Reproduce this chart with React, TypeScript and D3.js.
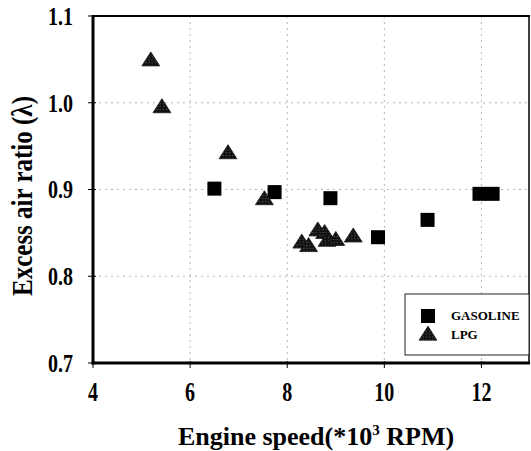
import React, { useRef, useEffect } from "react";
import * as d3 from "d3";

// Engine speed (*10^3 RPM) and excess air ratio
const gasolineSpeed = [6.5, 7.74, 8.89, 9.87, 10.89, 11.96, 12.23];
const gasolineLambda = [0.901, 0.897, 0.89, 0.845, 0.865, 0.895, 0.895];

const lpgSpeed = [5.19, 5.42, 6.78, 7.53, 8.3, 8.44, 8.63, 8.77, 8.82, 9.0, 9.36];
const lpgLambda = [1.049, 0.995, 0.942, 0.889, 0.839, 0.835, 0.853, 0.85, 0.841, 0.842, 0.846];

const xTicks = [4, 6, 8, 10, 12];
const yTicks = [0.7, 0.8, 0.9, 1.0, 1.1];
const seriesNames = ["GASOLINE", "LPG"];

export default function App() {
  const ref = useRef<SVGSVGElement>(null);

  useEffect(() => {
    const width = 531;
    const height = 451;
    const margin = { top: 16, right: 1, bottom: 88, left: 93 };
    const font = "'Liberation Serif', 'Times New Roman', serif";

    const svg = d3.select(ref.current);
    svg.selectAll("*").remove();

    const x = d3.scaleLinear().domain([4, 13]).range([margin.left, width - margin.right]);
    const y = d3.scaleLinear().domain([0.7, 1.1]).range([height - margin.bottom, margin.top]);

    // halftone-ish fill for the triangles
    const defs = svg.append("defs");
    const pat = defs
      .append("pattern")
      .attr("id", "dots")
      .attr("width", 3)
      .attr("height", 3)
      .attr("patternUnits", "userSpaceOnUse");
    pat.append("rect").attr("width", 3).attr("height", 3).attr("fill", "#111");
    pat.append("rect").attr("x", 1).attr("y", 1).attr("width", 1).attr("height", 1).attr("fill", "#666");

    // grid
    svg
      .append("g")
      .selectAll("line")
      .data(yTicks.slice(1, -1))
      .join("line")
      .attr("x1", x(4))
      .attr("x2", x(13))
      .attr("y1", (d) => y(d))
      .attr("y2", (d) => y(d))
      .attr("stroke", "#b4b4b4")
      .attr("stroke-width", 1)
      .attr("stroke-dasharray", "2,4");

    svg
      .append("g")
      .selectAll("line")
      .data(xTicks.slice(1))
      .join("line")
      .attr("x1", (d) => x(d))
      .attr("x2", (d) => x(d))
      .attr("y1", y(1.1))
      .attr("y2", y(0.7))
      .attr("stroke", "#b4b4b4")
      .attr("stroke-width", 1)
      .attr("stroke-dasharray", "2,4");

    // frame
    svg
      .append("line")
      .attr("x1", x(4))
      .attr("x2", x(13))
      .attr("y1", y(1.1))
      .attr("y2", y(1.1))
      .attr("stroke", "#000")
      .attr("stroke-width", 2);
    svg
      .append("line")
      .attr("x1", x(13) - 1)
      .attr("x2", x(13) - 1)
      .attr("y1", y(1.1))
      .attr("y2", y(0.7))
      .attr("stroke", "#000")
      .attr("stroke-width", 1.5);

    // axes
    const yAxis = svg.append("g").attr("transform", `translate(${x(4)},0)`);
    yAxis
      .append("line")
      .attr("y1", y(1.1) - 1)
      .attr("y2", y(0.7) + 1.5)
      .attr("stroke", "#000")
      .attr("stroke-width", 3);
    yAxis
      .selectAll("line.tick")
      .data(yTicks)
      .join("line")
      .attr("class", "tick")
      .attr("x1", -5)
      .attr("x2", 3)
      .attr("y1", (d) => y(d))
      .attr("y2", (d) => y(d))
      .attr("stroke", "#000")
      .attr("stroke-width", 1);
    yAxis
      .selectAll("g.lbl")
      .data(yTicks)
      .join("g")
      .attr("class", "lbl")
      .attr("transform", (d) => `translate(-20,${y(d)}) scale(1,1.3)`)
      .append("text")
      .attr("text-anchor", "end")
      .attr("dy", "0.34em")
      .style("font-family", font)
      .style("font-weight", "bold")
      .style("font-size", "20px")
      .text((d) => d.toFixed(1));

    const xAxis = svg.append("g").attr("transform", `translate(0,${y(0.7)})`);
    xAxis
      .append("line")
      .attr("x1", x(4) - 1.5)
      .attr("x2", x(13))
      .attr("stroke", "#000")
      .attr("stroke-width", 3);
    xAxis
      .selectAll("line.tick")
      .data(xTicks)
      .join("line")
      .attr("class", "tick")
      .attr("x1", (d) => x(d))
      .attr("x2", (d) => x(d))
      .attr("y1", -2)
      .attr("y2", 5)
      .attr("stroke", "#000")
      .attr("stroke-width", 1);
    xAxis
      .selectAll("g.lbl")
      .data(xTicks)
      .join("g")
      .attr("class", "lbl")
      .attr("transform", (d) => `translate(${x(d)},38) scale(1,1.35)`)
      .append("text")
      .attr("text-anchor", "middle")
      .style("font-family", font)
      .style("font-weight", "bold")
      .style("font-size", "20px")
      .text((d) => d);

    // points
    const gasoline = gasolineSpeed.map((s, i) => ({ s, l: gasolineLambda[i] }));
    const lpg = lpgSpeed.map((s, i) => ({ s, l: lpgLambda[i] }));
    const tri = d3.symbol().type(d3.symbolTriangle).size(125);

    svg
      .append("g")
      .selectAll("rect")
      .data(gasoline)
      .join("rect")
      .attr("x", (d) => x(d.s) - 7)
      .attr("y", (d) => y(d.l) - 7)
      .attr("width", 14)
      .attr("height", 14)
      .attr("fill", "#000");

    svg
      .append("g")
      .selectAll("path")
      .data(lpg)
      .join("path")
      .attr("transform", (d) => `translate(${x(d.s)},${y(d.l) + 1}) scale(1.05,0.95)`)
      .attr("d", tri)
      .attr("fill", "url(#dots)")
      .attr("stroke", "#111")
      .attr("stroke-width", 0.8);

    // legend
    const lg = svg.append("g").attr("transform", "translate(405,294)");
    lg.append("rect")
      .attr("width", 124)
      .attr("height", 61)
      .attr("fill", "#fff")
      .attr("stroke", "#222")
      .attr("stroke-width", 1);
    lg.append("rect").attr("x", 16).attr("y", 15).attr("width", 14).attr("height", 14).attr("fill", "#000");
    lg.append("path")
      .attr("transform", "translate(23,41.5) scale(1.05,0.95)")
      .attr("d", tri)
      .attr("fill", "url(#dots)")
      .attr("stroke", "#111")
      .attr("stroke-width", 0.8);
    lg.selectAll("text")
      .data(seriesNames)
      .join("text")
      .attr("x", 46)
      .attr("y", (d, i) => 26 + i * 19)
      .style("font-family", font)
      .style("font-weight", "bold")
      .style("font-size", "13px")
      .text((d) => d);

    // Y axis title
    svg
      .append("g")
      .attr("transform", `translate(32,196) rotate(-90) scale(1,1.15)`)
      .append("text")
      .attr("text-anchor", "middle")
      .style("font-family", font)
      .style("font-weight", "bold")
      .style("font-size", "25px")
      .text("Excess air ratio (λ)");

    // X axis title
    const xt = svg
      .append("text")
      .attr("x", 316)
      .attr("y", 445)
      .attr("text-anchor", "middle")
      .style("font-family", font)
      .style("font-weight", "bold")
      .style("font-size", "26px");
    xt.append("tspan").text("Engine speed(*10");
    xt.append("tspan").attr("dy", -10).style("font-size", "15px").text("3");
    xt.append("tspan").attr("dy", 10).text(" RPM)");
  }, []);

  return (
    <svg
      ref={ref}
      width={531}
      height={451}
      style={{ position: "absolute", left: 0, top: 0, background: "#fff" }}
    />
  );
}
